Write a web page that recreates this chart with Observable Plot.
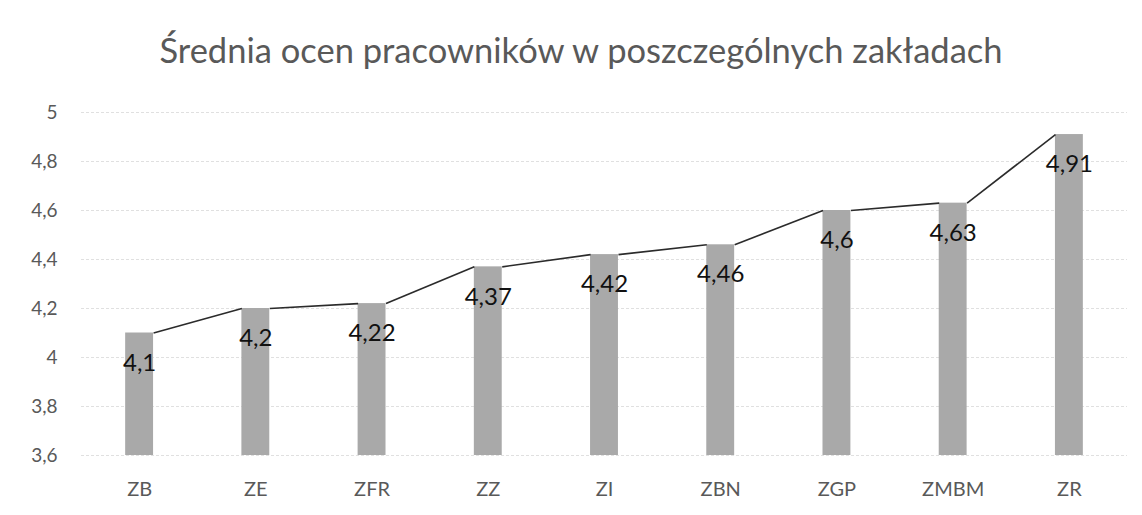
<!DOCTYPE html>
<html>
<head>
<meta charset="utf-8">
<script src="https://cdn.jsdelivr.net/npm/d3@7"></script>
<script src="https://cdn.jsdelivr.net/npm/@observablehq/plot@0.6"></script>
<style>
  html, body { margin: 0; padding: 0; background: #fff; }
  #wrap { width: 1142px; height: 515px; position: relative; overflow: hidden; font-family: Lato, "Open Sans", sans-serif; }
  #title { position: absolute; left: 0; top: 20px; width: 1142px; text-align: center; font-size: 34.5px; color: #595959; line-height: 60px; padding-left: 20px; box-sizing: border-box; }
  #chart { position: absolute; left: 0; top: 90px; }
</style>
</head>
<body>
<div id="wrap">
  <div id="title">Średnia ocen pracowników w poszczególnych zakładach</div>
  <div id="chart"></div>
</div>
<script>
const categories = ["ZB", "ZE", "ZFR", "ZZ", "ZI", "ZBN", "ZGP", "ZMBM", "ZR"];
const values = [4.1, 4.2, 4.22, 4.37, 4.42, 4.46, 4.6, 4.63, 4.91];
const yTicks = [3.6, 3.8, 4, 4.2, 4.4, 4.6, 4.8, 5];

const half = 0.12; // half bar width in category units
const comma = d => String(+d.toFixed(2)).replace(".", ",");

const bars = categories.map((c, i) => ({ c, i, v: values[i] }));
const links = bars.slice(0, -1).map((b, k) => ({ x1: b.i + half, y1: b.v, x2: bars[k + 1].i - half, y2: bars[k + 1].v }));

const plot = Plot.plot({
  width: 1142,
  height: 425,
  marginTop: 22,
  marginBottom: 60,
  marginLeft: 81,
  marginRight: 15,
  style: { fontFamily: "Lato, 'Open Sans', sans-serif", background: "transparent" },
  x: { type: "linear", domain: [-0.5, categories.length - 0.5], axis: null },
  y: { domain: [3.6, 5], axis: null },
  marks: [
    Plot.gridY(yTicks, { stroke: "#e0e0e0", strokeOpacity: 1, strokeDasharray: "3,2" }),
    Plot.axisY(yTicks, { tickSize: 0, tickPadding: 24, tickFormat: comma, fontSize: 19, fill: "#595959" }),
    Plot.axisX(d3.range(categories.length), { tickSize: 0, tickPadding: 26, tickFormat: i => categories[i], fontSize: 20, fill: "#595959", anchor: "bottom" }),
    Plot.rectY(bars, { x1: d => d.i - half, x2: d => d.i + half, y1: 3.6, y2: "v", fill: "#a9a9a9" }),
    Plot.link(links, { x1: "x1", y1: "y1", x2: "x2", y2: "y2", stroke: "#2b2b2b", strokeWidth: 1.6 }),
    Plot.text(bars, { x: "i", y: "v", text: d => comma(d.v), dy: 30, fontSize: 24, fill: "#111" })
  ]
});
document.getElementById("chart").appendChild(plot);
</script>
</body>
</html>
